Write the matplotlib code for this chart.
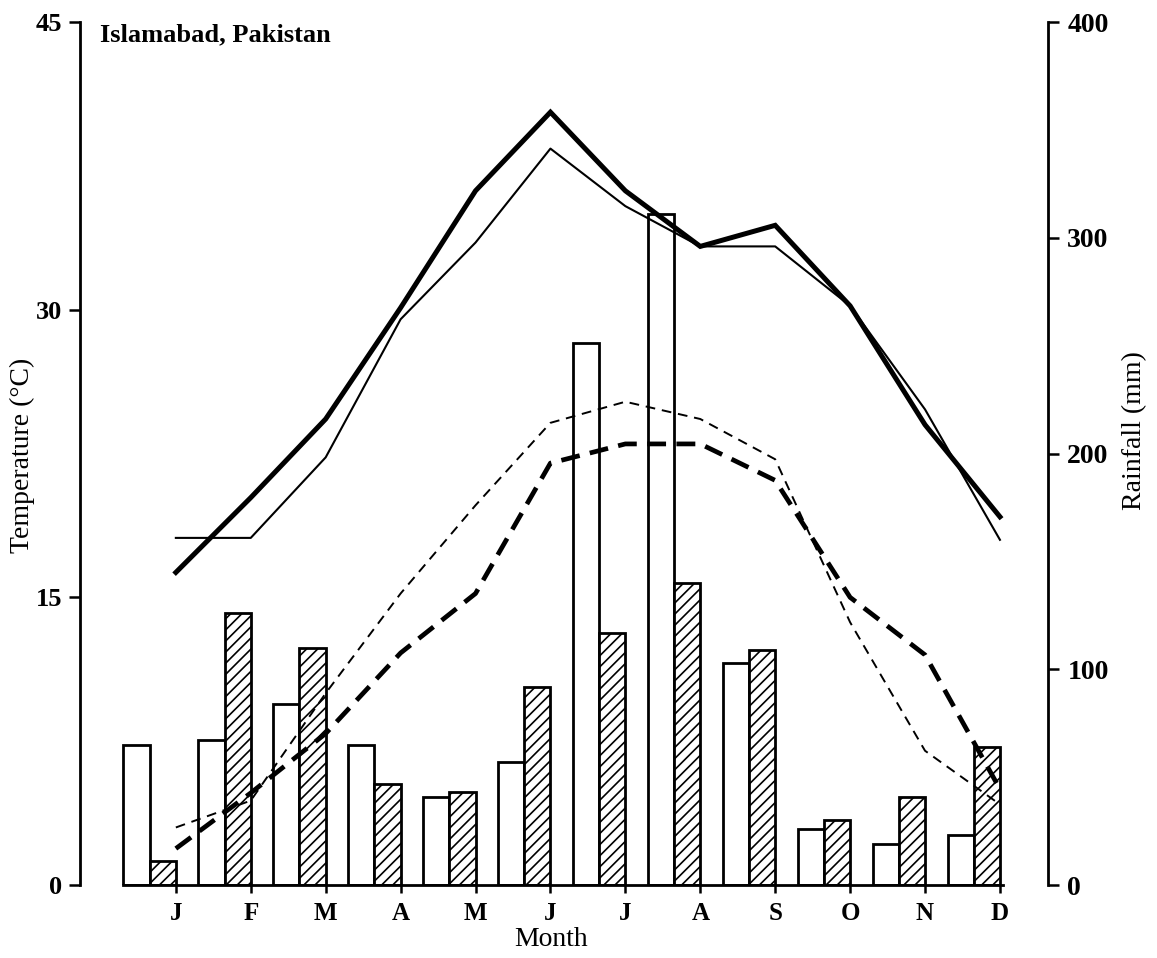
import matplotlib
matplotlib.use("Agg")
import matplotlib.pyplot as plt
import numpy as np

plt.rcParams['font.family'] = ['Liberation Serif', 'DejaVu Serif']
plt.rcParams['hatch.linewidth'] = 1.2

# monthly climate data
months = ['J', 'F', 'M', 'A', 'M', 'J', 'J', 'A', 'S', 'O', 'N', 'D']
rain_open = [65, 67, 84, 65, 41, 57, 251, 311, 103, 26, 19, 23]
rain_hatched = [11, 126, 110, 47, 43, 92, 117, 140, 109, 30, 41, 64]
tmax_thick = [16.3, 20.2, 24.3, 30.1, 36.2, 40.3, 36.2, 33.3, 34.4, 30.2, 24.0, 19.2]
tmax_thin = [18.1, 18.1, 22.3, 29.5, 33.5, 38.4, 35.4, 33.3, 33.3, 30.2, 24.8, 18.0]
tmin_thick = [1.9, 4.8, 7.9, 12.1, 15.2, 22.0, 23.0, 23.0, 21.1, 15.0, 12.0, 5.0]
tmin_thin = [3.0, 4.4, 10.0, 15.2, 19.8, 24.1, 25.2, 24.3, 22.2, 13.7, 7.0, 4.2]

x = np.arange(len(months))
w = 0.35

fig = plt.figure(figsize=(11.57, 9.58), dpi=100)
ax_rain = fig.add_axes([0.0691, 0.0762, 0.8366, 0.9008])
ax_temp = ax_rain.twinx()

# rainfall bars (right axis)
ax_rain.bar(x - 1.5 * w, rain_open, width=w, facecolor='white',
            edgecolor='black', linewidth=2.0, zorder=2)
ax_rain.bar(x - 0.5 * w, rain_hatched, width=w, facecolor='white',
            edgecolor='black', linewidth=2.0, hatch='///', zorder=2)
ax_rain.set_ylim(0, 400)
ax_rain.set_xlim(-1.28, 11.64)

# temperature lines (left axis)
ax_temp.plot(x, tmax_thick, color='black', lw=3.6, solid_joinstyle='miter')
ax_temp.plot(x, tmax_thin, color='black', lw=1.5)
ax_temp.plot(x, tmin_thick, color='black', lw=3.4, dashes=(4.0, 2.2))
ax_temp.plot(x, tmin_thin, color='black', lw=1.4, dashes=(5, 3.5))
ax_temp.set_ylim(0, 45)

# spines
for s in ['top', 'left']:
    ax_rain.spines[s].set_visible(False)
ax_rain.spines['bottom'].set_bounds(-2 * w, 11.04)
for s in ['top', 'right', 'bottom']:
    ax_temp.spines[s].set_visible(False)
for sp in [ax_rain.spines['bottom'], ax_rain.spines['right'], ax_temp.spines['left']]:
    sp.set_linewidth(2.0)
ax_temp.spines['left'].set_visible(True)

# ticks
ax_rain.set_xticks(x)
ax_rain.set_xticklabels(months, fontsize=18, fontweight='bold')
ax_rain.tick_params(axis='x', length=6, width=1.8, pad=6)
ax_rain.yaxis.tick_right()
ax_rain.set_yticks([0, 100, 200, 300, 400])
ax_rain.set_yticklabels(['0', '100', '200', '300', '400'], fontsize=20, fontweight='bold')
ax_rain.tick_params(axis='y', length=8, width=1.8, pad=6)

ax_temp.yaxis.tick_left()
ax_temp.set_yticks([0, 15, 30, 45])
ax_temp.set_yticklabels(['0', '15', '30', '45'], fontsize=19, fontweight='bold')
ax_temp.tick_params(axis='y', length=8, width=1.8, pad=5)

# labels
fig.text(0.019, 0.525, 'Temperature (°C)', rotation=90, ha='center', va='center', fontsize=20)
fig.text(0.981, 0.551, 'Rainfall (mm)', rotation=90, ha='center', va='center', fontsize=20)
fig.text(0.476, 0.019, 'Month', ha='center', va='center', fontsize=20)
ax_temp.text(0.021, 0.999, 'Islamabad, Pakistan', transform=ax_temp.transAxes,
             ha='left', va='top', fontsize=19, fontweight='bold')

fig.savefig('out.png', dpi=100)
